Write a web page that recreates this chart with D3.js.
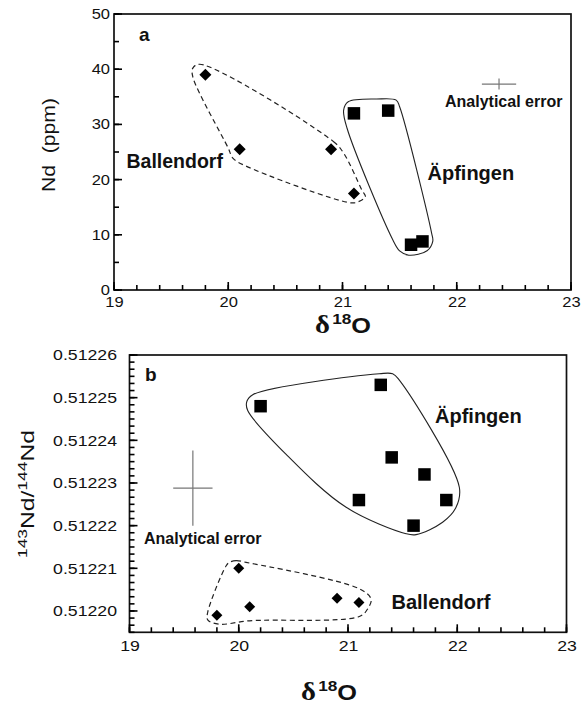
<!DOCTYPE html>
<html><head><meta charset="utf-8">
<script src="https://cdn.jsdelivr.net/npm/d3@7"></script>
<style>
html,body{margin:0;padding:0;background:#fff;}
svg{display:block;font-family:"Liberation Sans",Arial,Helvetica,sans-serif;}
</style></head>
<body>
<svg id="chart" width="587" height="705"></svg>
<script>
// ---------- data ----------
const xTicks = [19, 20, 21, 22, 23];
const ndTicks = [0, 10, 20, 30, 40, 50];
const ratioTicks = [0.51220, 0.51221, 0.51222, 0.51223, 0.51224, 0.51225, 0.51226];

// panel a: Nd (ppm) vs d18O
const ballA_d18O = [19.8, 20.1, 20.9, 21.1];
const ballA_Nd   = [39.0, 25.5, 25.5, 17.5];
const apfA_d18O  = [21.1, 21.4, 21.6, 21.7];
const apfA_Nd    = [32.0, 32.5, 8.2, 8.8];
const errA = {x: 22.37, y: 37.3, dx: 0.15, dy: 1.0};

// panel b: 143Nd/144Nd vs d18O
const ballB_d18O  = [19.8, 20.0, 20.1, 20.9, 21.1];
const ballB_ratio = [0.512199, 0.51221, 0.512201, 0.512203, 0.512202];
const apfB_d18O   = [20.2, 21.3, 21.4, 21.7, 21.1, 21.9, 21.6];
const apfB_ratio  = [0.512248, 0.512253, 0.512236, 0.512232, 0.512226, 0.512226, 0.51222];
const errB = {x: 19.58, y: 0.5122288, dx: 0.18, dy: 0.0000088};

// group outlines (annotation envelopes, data units)
const ballA_outline = [[19.75,40.9],[20.92,26.9],[21.01,24.8],[21.17,18.1],[21.2,16.9],[21.14,16.0],[21.07,15.8],[20.15,22.5],[20.04,23.9],[20.0,25.7],[19.69,38.6],[19.69,40.2]];
const apfA_outline  = [[21.05,34.1],[21.30,34.6],[21.47,34.4],[21.50,33.2],[21.78,10.3],[21.79,8.8],[21.74,7.1],[21.58,6.3],[21.50,7.1],[21.44,9.1],[21.04,29.3],[21.01,32.6]];
const ballB_outline = [[19.915,0.5122114],[19.976,0.5122118],[20.067,0.5122114],[21.104,0.5122052],[21.211,0.5122028],[21.180,0.5122005],[21.104,0.5121987],[20.098,0.5121977],[19.823,0.5121969],[19.716,0.5121979],[19.716,0.5121997],[19.885,0.5122106]];
const apfB_outline  = [[20.128,0.5122507],[20.073,0.5122490],[20.082,0.5122470],[20.434,0.5122367],[20.983,0.5122243],[21.532,0.5122181],[21.623,0.5122179],[21.866,0.5122208],[21.989,0.5122243],[22.019,0.5122290],[21.470,0.5122541],[21.409,0.5122556],[21.287,0.5122556]];

// ---------- drawing ----------
const svg = d3.select("#chart");
const FONT = '"Liberation Sans",Arial,Helvetica,sans-serif';
const STRETCH = 1.18;
const TICK_COLOR = "#000";

function stretchTicks(g, size) {
  g.selectAll(".tick text").each(function() {
    const t = d3.select(this);
    const x = +t.attr("x") || 0;
    t.attr("x", 0).attr("transform", `translate(${x},0) scale(${STRETCH},1)`);
  }).attr("font-size", size).attr("font-family", FONT).attr("fill", "#111");
  g.selectAll(".tick line").remove();
}

// inward tick marks along bottom / left edges, positioned by the scales
function tickMarks(g, x, y, xVals, yVals, len) {
  const [x0] = x.range(), [y0] = y.range();
  g.append("g").selectAll("path").data(xVals).join("path")
    .attr("d", d => `M${x(d)},${y0}V${y0 - len}`)
    .attr("stroke", TICK_COLOR).attr("stroke-width", 1.6).attr("fill", "none");
  g.append("g").selectAll("path").data(yVals).join("path")
    .attr("d", d => `M${x0},${y(d)}H${x0 + len}`)
    .attr("stroke", TICK_COLOR).attr("stroke-width", 1.6).attr("fill", "none");
}

function panel(cfg) {
  const {x, y, xMinor, yMinor, yTicks, yFmt, fs, xPad, yPad} = cfg;
  const g = svg.append("g");
  const [x0, x1] = x.range(), [y0, y1] = y.range();
  g.append("rect").attr("x", x0).attr("y", y1).attr("width", x1 - x0).attr("height", y0 - y1)
    .attr("fill", "none").attr("stroke", "#111").attr("stroke-width", 1.7);
  tickMarks(g, x, y, xMinor, yMinor, 5);
  tickMarks(g, x, y, xTicks, yTicks, 8);
  g.append("g").attr("transform", `translate(0,${y0})`)
    .call(d3.axisBottom(x).tickValues(xTicks).tickSizeInner(0).tickSizeOuter(0).tickPadding(xPad).tickFormat(d3.format("d")))
    .call(a => a.select(".domain").remove())
    .call(a => stretchTicks(a, fs));
  g.append("g").attr("transform", `translate(${x0},0)`)
    .call(d3.axisLeft(y).tickValues(yTicks).tickSizeInner(0).tickSizeOuter(0).tickPadding(yPad).tickFormat(yFmt))
    .call(a => a.select(".domain").remove())
    .call(a => stretchTicks(a, fs));
  return g;
}

function outline(g, x, y, pts, dashed) {
  g.append("path")
    .attr("d", d3.line().x(d => x(d[0])).y(d => y(d[1])).curve(d3.curveCatmullRomClosed.alpha(0.5))(pts))
    .attr("fill", "none").attr("stroke", "#222").attr("stroke-width", dashed ? 1.2 : 1.1)
    .attr("stroke-dasharray", dashed ? "5,3.5" : null);
}

function diamonds(g, x, y, xs, ys, half) {
  const side = half * Math.SQRT2;
  g.selectAll(null).data(xs.map((v, i) => [v, ys[i]])).join("path")
    .attr("d", d3.symbol(d3.symbolSquare, side * side)())
    .attr("transform", d => `translate(${x(d[0])},${y(d[1])}) rotate(45)`)
    .attr("fill", "#000");
}
function squares(g, x, y, xs, ys, side) {
  g.selectAll(null).data(xs.map((v, i) => [v, ys[i]])).join("path")
    .attr("d", d3.symbol(d3.symbolSquare, side * side)())
    .attr("transform", d => `translate(${x(d[0])},${y(d[1])})`)
    .attr("fill", "#000");
}
function errCross(g, x, y, e) {
  g.append("path").attr("d", `M${x(e.x - e.dx)},${y(e.y)}H${x(e.x + e.dx)}M${x(e.x)},${y(e.y - e.dy)}V${y(e.y + e.dy)}`)
    .attr("stroke", "#777").attr("stroke-width", 1.2).attr("fill", "none");
}
function label(g, txt, px, py, size) {
  g.append("text").attr("x", px).attr("y", py).text(txt)
    .attr("font-family", FONT).attr("font-weight", "bold").attr("font-size", size).attr("fill", "#111");
}
function fitText(t, target) {
  const len = t.node().getComputedTextLength();
  return target / len;
}
function xTitle(cx, baseline) {
  const t = svg.append("text").attr("text-anchor", "middle").attr("fill", "#111").attr("font-weight", "bold");
  t.append("tspan").text("δ").attr("font-family", '"Liberation Serif","Times New Roman",serif').attr("font-size", 25);
  t.append("tspan").text("18").attr("font-family", FONT).attr("font-size", 15).attr("dy", -9).attr("dx", 2);
  t.append("tspan").text("O").attr("font-family", FONT).attr("font-size", 22).attr("dy", 9);
  t.attr("transform", `translate(${cx},${baseline}) scale(1.15,1)`);
}

// ---- panel a ----
const xA = d3.scaleLinear([19, 23], [114, 571]);
const yA = d3.scaleLinear([0, 50], [290, 14]);
const gA = panel({
  x: xA, y: yA,
  xMinor: d3.range(0, 21).map(i => 19 + i * 0.2),
  yMinor: d3.range(0, 11).map(i => i * 5),
  yTicks: ndTicks, yFmt: d3.format("d"), fs: 14, xPad: 7, yPad: 4
});
outline(gA, xA, yA, ballA_outline, true);
outline(gA, xA, yA, apfA_outline, false);
diamonds(gA, xA, yA, ballA_d18O, ballA_Nd, 6);
squares(gA, xA, yA, apfA_d18O, apfA_Nd, 12.5);
errCross(gA, xA, yA, errA);
label(gA, "a", 139, 40.5, 19);
label(gA, "Ballendorf", 126.5, 168, 19.5);
label(gA, "Äpfingen", 427.5, 180, 20);
label(gA, "Analytical error", 445, 106.5, 16);
{
  const t = svg.append("text").text("Nd  (ppm)").style("white-space", "pre")
    .attr("font-family", FONT).attr("font-size", 18).attr("fill", "#111").attr("text-anchor", "middle");
  const s = fitText(t, 94);
  t.attr("transform", `translate(55,145) rotate(-90) scale(${s},1)`);
}
xTitle(343, 333);

// ---- panel b ----
const xB = d3.scaleLinear([19, 23], [129.5, 566.5]);
const yB = d3.scaleLinear([0.512195, 0.51226], [632.3, 355]);
const gB = panel({
  x: xB, y: yB,
  xMinor: d3.range(0, 21).map(i => 19 + i * 0.2),
  yMinor: d3.range(-3, 37).map(k => 0.51220 + k * 0.00001 / 6),
  yTicks: ratioTicks, yFmt: d3.format(".5f"), fs: 15, xPad: 8, yPad: 12.5
});
outline(gB, xB, yB, ballB_outline, true);
outline(gB, xB, yB, apfB_outline, false);
diamonds(gB, xB, yB, ballB_d18O, ballB_ratio, 5.5);
squares(gB, xB, yB, apfB_d18O, apfB_ratio, 12.5);
errCross(gB, xB, yB, errB);
label(gB, "b", 145, 380.5, 19);
label(gB, "Äpfingen", 435, 422.5, 20);
label(gB, "Ballendorf", 391.5, 609, 20);
label(gB, "Analytical error", 144, 544, 16);
{
  const t = svg.append("text").attr("font-family", FONT).attr("fill", "#111").attr("text-anchor", "middle");
  t.append("tspan").text("143").attr("font-size", 13).attr("dy", -7);
  t.append("tspan").text("Nd/").attr("font-size", 18.5).attr("dy", 7);
  t.append("tspan").text("144").attr("font-size", 13).attr("dy", -7);
  t.append("tspan").text("Nd").attr("font-size", 18.5).attr("dy", 7);
  const s = fitText(t, 128);
  t.attr("transform", `translate(33.5,494) rotate(-90) scale(${s},1)`);
}
xTitle(329, 699.5);
</script>
</body></html>
